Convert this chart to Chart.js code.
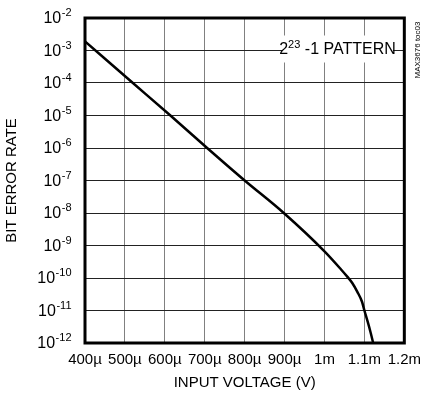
<!DOCTYPE html>
<html>
<head>
<meta charset="utf-8">
<script src="https://cdn.jsdelivr.net/npm/chart.js@4.4.1/dist/chart.umd.min.js"></script>
<style>
  html, body { margin: 0; padding: 0; background: #fff; }
  canvas { display: block; }
</style>
</head>
<body>
<canvas id="ber" width="429" height="402"></canvas>
<script>
// input voltage in microvolts, bit error rate read per point
const inputVoltageUV = [400, 520, 614, 706, 800, 898, 1000, 1041, 1057, 1070, 1082, 1094, 1100, 1108, 1116, 1122];
const bitErrorRate = [1.9e-3, 1e-4, 1e-5, 1e-6, 1e-7, 1e-8, 6.6e-10, 1.86e-10, 1.1e-10, 6.9e-11, 3.8e-11, 1.86e-11, 1e-11, 4.6e-12, 2e-12, 1e-12];
const yDecades = [-12, -11, -10, -9, -8, -7, -6, -5, -4, -3, -2];
const xTicks = [400, 500, 600, 700, 800, 900, 1000, 1100, 1200];

const FONT = "'Liberation Sans Narrow', 'Liberation Sans', Arial, sans-serif";

function voltLabel(v) {
  return v < 1000 ? v + "µ" : v / 1000 + "m";
}

// draws 10^n labels, the frame and the pattern note
const decorations = {
  id: "decorations",
  afterDatasetsDraw(chart) {
    const { ctx, chartArea: a } = chart;
    const y = chart.scales.y;
    ctx.save();

    // y tick labels with superscript exponents
    ctx.fillStyle = "#000";
    ctx.textBaseline = "middle";
    ctx.textAlign = "left";
    yDecades.forEach(k => {
      const py = y.getPixelForValue(Math.pow(10, k));
      ctx.font = "16px " + FONT;
      const wBase = ctx.measureText("10").width;
      ctx.font = "11px " + FONT;
      const exp = String(k);
      const wExp = ctx.measureText(exp).width;
      const x0 = 71 - wBase - wExp;
      ctx.font = "16px " + FONT;
      ctx.fillText("10", x0, py + 1);
      ctx.font = "11px " + FONT;
      ctx.fillText(exp, x0 + wBase + 0.5, py - 5);
    });

    // pattern note sitting on the 1e-3 grid line
    const ny = y.getPixelForValue(1e-3) - 2;
    ctx.fillStyle = "#fff";
    ctx.fillRect(282, ny - 13, 111, 27);
    ctx.fillStyle = "#000";
    ctx.font = "16px " + FONT;
    const p1 = "2";
    const p3 = " -1 PATTERN";
    const w1 = ctx.measureText(p1).width;
    const w3 = ctx.measureText(p3).width;
    ctx.font = "11px " + FONT;
    const w2 = ctx.measureText("23").width;
    let tx = 337.5 - (w1 + w2 + w3) / 2;
    ctx.font = "16px " + FONT;
    ctx.fillText(p1, tx, ny + 1);
    ctx.font = "11px " + FONT;
    ctx.fillText("23", tx + w1, ny - 4);
    ctx.font = "16px " + FONT;
    ctx.fillText(p3, tx + w1 + w2, ny + 1);

    // plot frame
    ctx.strokeStyle = "#000";
    ctx.lineWidth = 3;
    ctx.strokeRect(a.left, a.top, a.right - a.left, a.bottom - a.top);

    // figure tag on the right edge
    ctx.translate(418, 50);
    ctx.rotate(-Math.PI / 2);
    ctx.textAlign = "center";
    ctx.font = "8px " + FONT;
    ctx.fillText("MAX3676 toc03", 0, 0);
    ctx.restore();
  }
};

new Chart(document.getElementById("ber").getContext("2d"), {
  type: "line",
  data: {
    datasets: [
      {
        label: "BER",
        data: inputVoltageUV.map((v, i) => ({ x: v, y: bitErrorRate[i] })),
        borderColor: "#000",
        borderWidth: 2.5,
        pointRadius: 0,
        cubicInterpolationMode: "monotone",
        fill: false,
      },
    ],
  },
  options: {
    responsive: false,
    animation: false,
    layout: { padding: { left: 0, top: 18, right: 20, bottom: 0 } },
    plugins: { legend: { display: false }, tooltip: { enabled: false } },
    scales: {
      x: {
        type: "linear",
        min: 400,
        max: 1200,
        afterBuildTicks: s => { s.ticks = xTicks.map(v => ({ value: v })); },
        afterFit: s => { s.height = 59; },
        grid: { color: "#808080", lineWidth: 1, drawTicks: false },
        border: { display: false },
        ticks: {
          color: "#000",
          padding: 8,
          maxRotation: 0,
          autoSkip: false,
          font: { family: FONT, size: 15 },
          callback: v => voltLabel(v),
        },
        title: {
          display: true,
          text: "INPUT VOLTAGE (V)",
          color: "#000",
          font: { family: FONT, size: 15 },
          padding: { top: 0, bottom: 10 },
        },
      },
      y: {
        type: "logarithmic",
        min: 1e-12,
        max: 1e-2,
        afterBuildTicks: s => { s.ticks = yDecades.map(k => ({ value: Math.pow(10, k) })); },
        afterFit: s => { s.width = 85; },
        grid: { color: "#222", lineWidth: 1, drawTicks: false },
        border: { display: false },
        ticks: { display: false },
        title: {
          display: true,
          text: "BIT ERROR RATE",
          color: "#000",
          font: { family: FONT, size: 15 },
          padding: { top: 3, bottom: 0 },
        },
      },
    },
  },
  plugins: [decorations],
});
</script>
</body>
</html>
